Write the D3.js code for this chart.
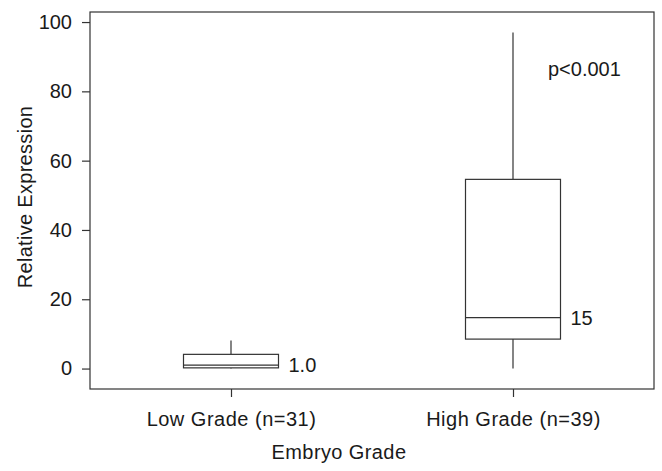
<!DOCTYPE html>
<html>
<head>
<meta charset="utf-8">
<script src="https://cdn.jsdelivr.net/npm/d3@7"></script>
<style>
  body { margin: 0; background: #fff; }
  text { font-family: "Liberation Sans", Arial, sans-serif; fill: #1a1a1a; }
</style>
</head>
<body>
<svg id="chart"></svg>
<script>
'use strict';

// data
var groups = ['Low Grade (n=31)', 'High Grade (n=39)'];
var whiskerLow = [0, 0];
var q1 = [0.2, 8.5];
var medians = [1.0, 14.7];
var q3 = [4.1, 54.6];
var whiskerHigh = [8.1, 97];
var medianLabels = ['1.0', '15'];
var yTicks = [0, 20, 40, 60, 80, 100];

var width = 662, height = 471;
var margin = {left: 90, right: 8, top: 12, bottom: 82};
var fontSize = '20px';

var svg = d3.select('#chart')
  .attr('width', width)
  .attr('height', height);

var x = d3.scalePoint()
  .domain(groups)
  .range([margin.left, width - margin.right])
  .padding(0.5);

var y = d3.scaleLinear()
  .domain([-5.9, 102.9])
  .range([height - margin.bottom, margin.top]);

var boxW = 95;
var stroke = '#333';

// frame
svg.append('rect')
  .attr('x', margin.left)
  .attr('y', margin.top)
  .attr('width', width - margin.left - margin.right)
  .attr('height', height - margin.top - margin.bottom)
  .attr('fill', 'none')
  .attr('stroke', stroke)
  .attr('stroke-width', 1.2);

// y axis
var yAxis = svg.append('g')
  .attr('transform', 'translate(' + margin.left + ',0)')
  .call(d3.axisLeft(y).tickValues(yTicks).tickSize(8).tickPadding(10));
yAxis.select('.domain').remove();
yAxis.selectAll('line').attr('stroke', stroke).attr('stroke-width', 1.2);
yAxis.selectAll('text').style('font-size', fontSize).attr('fill', '#1a1a1a')
  .attr('font-family', 'Liberation Sans, Arial, sans-serif');

// x axis
var xAxis = svg.append('g')
  .attr('transform', 'translate(0,' + (height - margin.bottom) + ')')
  .call(d3.axisBottom(x).tickSize(8).tickPadding(15));
xAxis.select('.domain').remove();
xAxis.selectAll('line').attr('stroke', stroke).attr('stroke-width', 1.2);
xAxis.selectAll('text').style('font-size', fontSize).attr('fill', '#1a1a1a')
  .attr('font-family', 'Liberation Sans, Arial, sans-serif')
  .style('letter-spacing', '0.5px');

// axis titles
svg.append('text')
  .attr('transform', 'translate(32,197) rotate(-90)')
  .attr('text-anchor', 'middle')
  .style('font-size', fontSize)
  .style('letter-spacing', '0.3px')
  .text('Relative Expression');

svg.append('text')
  .attr('x', 339)
  .attr('y', 459)
  .attr('text-anchor', 'middle')
  .style('font-size', fontSize)
  .style('letter-spacing', '0.4px')
  .text('Embryo Grade');

// boxes
var data = groups.map(function (g, i) {
  return {g: g, lo: whiskerLow[i], q1: q1[i], med: medians[i], q3: q3[i], hi: whiskerHigh[i], lab: medianLabels[i]};
});

var box = svg.selectAll('.box').data(data).enter().append('g').attr('class', 'box');

box.append('line')
  .attr('x1', function (d) { return x(d.g); })
  .attr('x2', function (d) { return x(d.g); })
  .attr('y1', function (d) { return y(d.q3); })
  .attr('y2', function (d) { return y(d.hi); })
  .attr('stroke', stroke).attr('stroke-width', 1.2);

box.append('line')
  .attr('x1', function (d) { return x(d.g); })
  .attr('x2', function (d) { return x(d.g); })
  .attr('y1', function (d) { return y(d.q1); })
  .attr('y2', function (d) { return y(d.lo); })
  .attr('stroke', stroke).attr('stroke-width', 1.2);

box.append('rect')
  .attr('x', function (d) { return x(d.g) - boxW / 2; })
  .attr('y', function (d) { return y(d.q3); })
  .attr('width', boxW)
  .attr('height', function (d) { return y(d.q1) - y(d.q3); })
  .attr('fill', '#fff')
  .attr('stroke', stroke).attr('stroke-width', 1.2);

box.append('line')
  .attr('x1', function (d) { return x(d.g) - boxW / 2; })
  .attr('x2', function (d) { return x(d.g) + boxW / 2; })
  .attr('y1', function (d) { return y(d.med); })
  .attr('y2', function (d) { return y(d.med); })
  .attr('stroke', stroke).attr('stroke-width', 1.2);

box.append('text')
  .attr('x', function (d) { return x(d.g) + boxW / 2 + 10; })
  .attr('y', function (d) { return y(d.med) + 7; })
  .style('font-size', fontSize)
  .text(function (d) { return d.lab; });

// significance
svg.append('text')
  .attr('x', 548)
  .attr('y', 76)
  .style('font-size', fontSize)
  .text('p<0.001');
</script>
</body>
</html>
